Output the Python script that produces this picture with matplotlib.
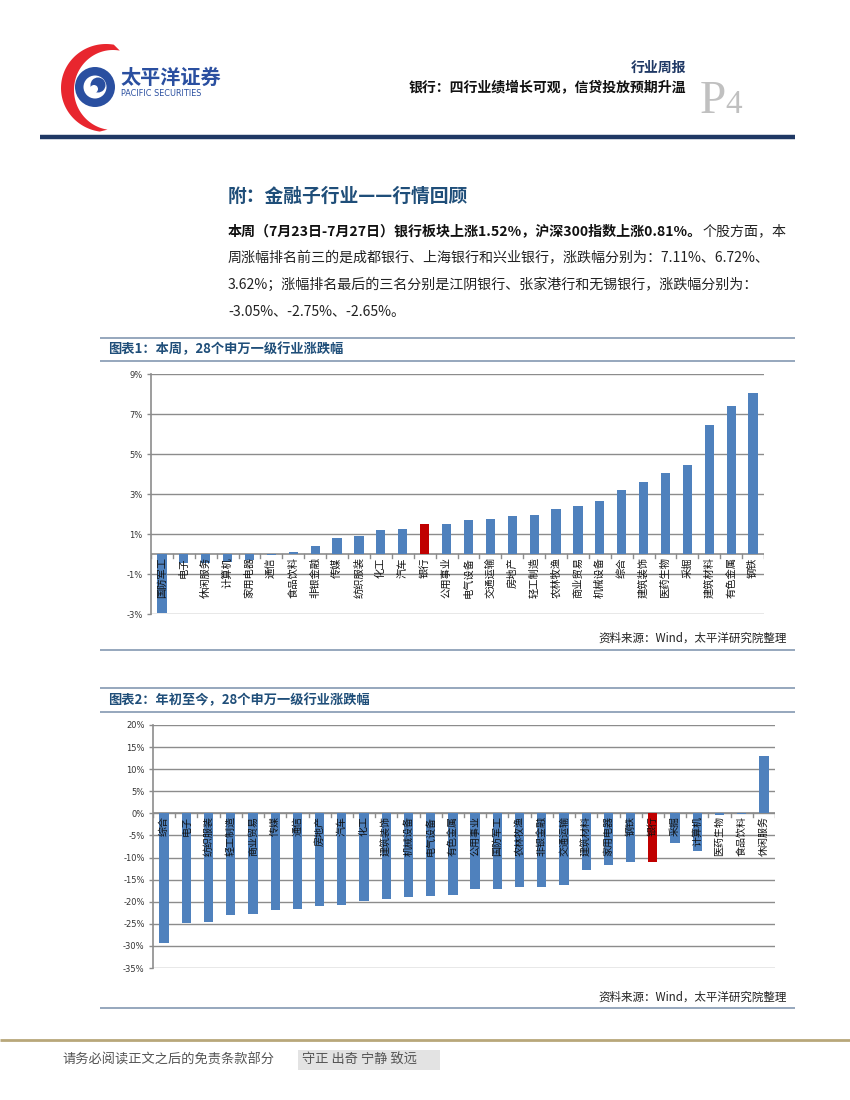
import matplotlib
matplotlib.use('Agg')
import matplotlib.pyplot as plt
import matplotlib.transforms as mtransforms
from matplotlib.patches import Circle, Polygon, Rectangle
import numpy as np

plt.rcParams['font.family'] = ['Noto Sans CJK SC', 'DejaVu Sans']

W, H = 850, 1100

# ---------------- data ----------------
week_inds = ['国防军工', '电子', '休闲服务', '计算机', '家用电器', '通信', '食品饮料',
             '非银金融', '传媒', '纺织服装', '化工', '汽车', '银行', '公用事业',
             '电气设备', '交通运输', '房地产', '轻工制造', '农林牧渔', '商业贸易',
             '机械设备', '综合', '建筑装饰', '医药生物', '采掘', '建筑材料',
             '有色金属', '钢铁']
week_vals = [-2.93, -0.47, -0.47, -0.38, -0.30, -0.05, 0.10, 0.40, 0.80, 0.92,
             1.20, 1.25, 1.52, 1.50, 1.70, 1.75, 1.90, 1.95, 2.25, 2.40, 2.65,
             3.20, 3.60, 4.05, 4.45, 6.45, 7.40, 8.05]
week_yticks = [-3, -1, 1, 3, 5, 7, 9]

ytd_inds = ['综合', '电子', '纺织服装', '轻工制造', '商业贸易', '传媒', '通信',
            '房地产', '汽车', '化工', '建筑装饰', '机械设备', '电气设备',
            '有色金属', '公用事业', '国防军工', '农林牧渔', '非银金融',
            '交通运输', '建筑材料', '家用电器', '钢铁', '银行', '采掘', '计算机',
            '医药生物', '食品饮料', '休闲服务']
ytd_vals = [-29.3, -24.9, -24.5, -23.0, -22.7, -21.8, -21.6, -20.9, -20.7, -19.9,
            -19.3, -18.9, -18.6, -18.4, -17.1, -17.1, -16.6, -16.6, -16.2, -12.8,
            -11.6, -11.0, -11.0, -6.6, -8.5, -0.3, -0.1, 13.0]
ytd_yticks = [20, 15, 10, 5, 0, -5, -10, -15, -20, -25, -30, -35]

highlight = '银行'

BLUE_BAR = '#4F81BD'
RED_BAR = '#C00000'
GRID = '#8C8C8C'
NAVY = '#1F3864'
TITLE_BLUE = '#1F4E79'
BAND = '#8EA0B8'

fig = plt.figure(figsize=(8.5, 11), dpi=100)
ov = fig.add_axes([0, 0, 1, 1], zorder=0)
ov.set_xlim(0, W)
ov.set_ylim(H, 0)
ov.axis('off')


def ax_px(l, t, r, b):
    return fig.add_axes([l / W, 1 - b / H, (r - l) / W, (b - t) / H], zorder=2)


def hline(y, x0, x1, color, lw):
    ov.plot([x0, x1], [y, y], color=color, lw=lw, solid_capstyle='butt')


# ---------------- header / logo ----------------
th_o = np.linspace(np.radians(80), np.radians(262), 80)
outer = np.c_[106 + 45 * np.cos(th_o), 88 - 44 * np.sin(th_o)]
th_i = np.linspace(np.radians(262), np.radians(80), 80)
inner = np.c_[113 + 39 * np.cos(th_i), 90 - 40 * np.sin(th_i)]
ov.add_patch(Polygon(np.vstack([outer, inner]), closed=True, color='#E8262E', lw=0))
ov.add_patch(Circle((95, 87), 20, color='#2A4FA0', lw=0))
ov.add_patch(Circle((95, 87), 11.5, color='white', lw=0))
ov.add_patch(Circle((98, 85), 7.5, color='#2A4FA0', lw=0))
ov.add_patch(Circle((94, 89), 4, color='white', lw=0))
ov.text(120, 77, '太平洋证券', fontsize=14.5, fontweight='bold', color='#2A4FA0',
        ha='left', va='center')
ov.text(121, 93, 'PACIFIC SECURITIES', fontsize=5.9, color='#2A4FA0',
        ha='left', va='center', family='DejaVu Sans')

ov.text(686, 68, '行业周报', fontsize=10, fontweight='bold', color=NAVY,
        ha='right', va='center')
ov.text(686, 88, '银行：四行业绩增长可观，信贷投放预期升温', fontsize=10,
        fontweight='bold', color='#111111', ha='right', va='center')
ov.text(700, 113, 'P', fontsize=34, color='#C0C0C0', ha='left', va='baseline',
        family='Liberation Serif')
ov.text(725, 113, '4', fontsize=24, color='#C0C0C0', ha='left', va='baseline',
        family='Liberation Serif')
hline(137, 40, 795, NAVY, 3.2)

# ---------------- section title & paragraph ----------------
ov.text(228, 196, '附：金融子行业——行情回顾', fontsize=13.5, fontweight='bold',
        color=TITLE_BLUE, ha='left', va='center')

fs_body = 10.1
fig.canvas.draw()
renderer = fig.canvas.get_renderer()
t_bold = ov.text(228, 231, '本周（7月23日-7月27日）银行板块上涨1.52%，沪深300指数上涨0.81%。',
                 fontsize=fs_body, fontweight='bold', color='#111111',
                 ha='left', va='center')
bb = t_bold.get_window_extent(renderer=renderer)
x_after = bb.x1
ov.text(x_after, 231, '个股方面，本', fontsize=fs_body, color='#222222',
        ha='left', va='center')
body_lines = ['周涨幅排名前三的是成都银行、上海银行和兴业银行，涨跌幅分别为：7.11%、6.72%、',
              '3.62%；涨幅排名最后的三名分别是江阴银行、张家港行和无锡银行，涨跌幅分别为：',
              '-3.05%、-2.75%、-2.65%。']
for i, ln in enumerate(body_lines):
    ov.text(228, 258 + 27 * i, ln, fontsize=fs_body, color='#222222',
            ha='left', va='center')


# ---------------- charts ----------------
def chart(rect, cats, vals, yticks, label_fs, tick_px=4):
    l, t, r, b = rect
    ax = ax_px(l, t, r, b)
    ax.set_facecolor('none')
    x = np.arange(len(cats))
    colors = [RED_BAR if c == highlight else BLUE_BAR for c in cats]
    ax.bar(x, vals, width=0.42, color=colors, zorder=2)
    ax.set_xlim(-0.5, len(cats) - 0.5)
    ymin, ymax = min(yticks), max(yticks)
    ax.set_ylim(ymin, ymax)
    ax.set_yticks(yticks)
    ax.set_yticklabels([f'{v}%' for v in yticks], fontsize=6, color='#333333',
                       family='DejaVu Sans')
    ax.tick_params(axis='y', length=3, color=GRID, width=1, pad=3)
    ax.set_xticks([])
    ax.yaxis.grid(True, color=GRID, lw=1)
    ax.set_axisbelow(True)
    for s in ['top', 'right', 'bottom']:
        ax.spines[s].set_visible(False)
    ax.spines['left'].set_color(GRID)
    ax.spines['left'].set_linewidth(1.2)
    ax.axhline(0, color=GRID, lw=1.2, zorder=1)
    unit_per_px = (ymax - ymin) / (b - t)
    for xb in np.arange(len(cats) + 1) - 0.5:
        ax.plot([xb, xb], [0, -tick_px * unit_per_px], color=GRID, lw=1, zorder=1)
    off = mtransforms.offset_copy(ax.transData, fig=fig, x=0, y=-3, units='dots')
    for xi, c in zip(x, cats):
        ax.text(xi, 0, c, rotation=90, ha='center', va='top', fontsize=label_fs,
                color='#111111', transform=off, zorder=3)
    return ax


def band(y_top, y_bot, title_y, title):
    hline(y_top, 100, 795, BAND, 1.3)
    hline(y_bot, 100, 795, BAND, 1.3)
    ov.text(108, title_y, title, fontsize=9.5, color=TITLE_BLUE, ha='left',
            va='center', fontweight='bold')


band(338, 361, 349, '图表1：本周，28个申万一级行业涨跌幅')
chart((151, 374, 764, 614), week_inds, week_vals, week_yticks, 7.4)
ov.text(787, 638, '资料来源：Wind，太平洋研究院整理', fontsize=8.3, color='#222222',
        ha='right', va='center', style='italic')
hline(650, 100, 795, BAND, 1.3)

band(688, 712, 700, '图表2：年初至今，28个申万一级行业涨跌幅')
chart((153, 725, 775, 968), ytd_inds, ytd_vals, ytd_yticks, 7.2)
ov.text(787, 997, '资料来源：Wind，太平洋研究院整理', fontsize=8.3, color='#222222',
        ha='right', va='center', style='italic')
hline(1008, 100, 795, BAND, 1.3)

# ---------------- footer ----------------
hline(1040, 0, 850, '#B8A77A', 2)
ov.text(62, 1060, '请务必阅读正文之后的免责条款部分', fontsize=9.5, color='#555555',
        ha='left', va='center')
ov.add_patch(Rectangle((298, 1050), 142, 20, color='#E3E3E3', lw=0))
ov.text(302, 1060, '守正 出奇 宁静 致远', fontsize=9.5, color='#555555',
        ha='left', va='center')

fig.savefig('out.png', dpi=100)
